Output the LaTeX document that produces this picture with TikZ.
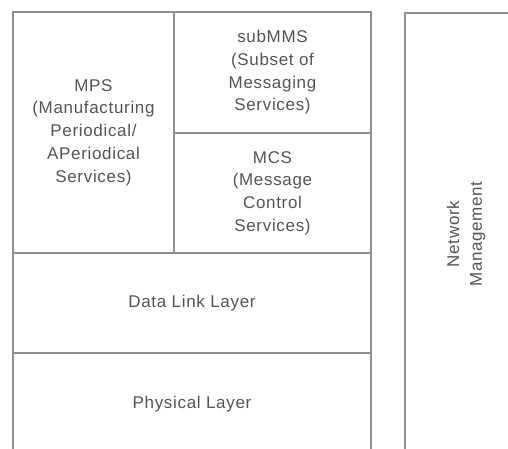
\documentclass[tikz,border=0pt]{standalone}
\usepackage{fontspec}
\setmainfont{Liberation Sans}[LetterSpace=4]
\definecolor{linegray}{rgb}{0.56,0.56,0.56}
\definecolor{textgray}{rgb}{0.33,0.33,0.33}
\begin{document}
\begin{tikzpicture}[x=1pt,y=-1pt,
  cell/.style={draw=linegray, line width=1.6pt, text=textgray, align=center,
    inner sep=0pt, font=\fontsize{17}{22.7}\selectfont}]
\useasboundingbox (0,0) rectangle (508,448);
\clip (0,0) rectangle (508,448);
\node[cell, minimum width=161pt, minimum height=241pt] (mps) at (93.5,132.5)
  {MPS\\(Manufacturing\\Periodical/\\APeriodical\\Services)};
\node[cell, minimum width=197pt, minimum height=121pt] (submms) at (272.5,72.5)
  {subMMS\\(Subset of\\Messaging\\Services)};
\node[cell, minimum width=197pt, minimum height=120pt] (mcs) at (272.5,193)
  {MCS\\(Message\\Control\\Services)};
\node[cell, minimum width=358pt, minimum height=100pt] (dll) at (192,303)
  {Data Link Layer};
\node[cell, minimum width=358pt, minimum height=102pt] (phy) at (192,404)
  {Physical Layer};
\node[cell, rotate=90, minimum width=442pt, minimum height=122pt] (nm) at (466,234)
  {Network\\Management};
\end{tikzpicture}
\end{document}
